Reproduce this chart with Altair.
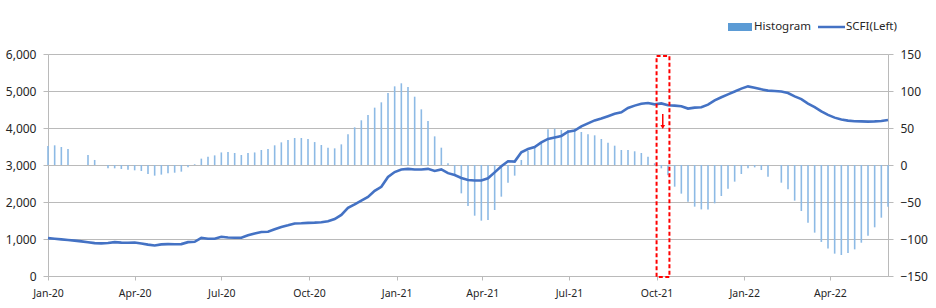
import altair as alt
import pandas as pd

start_date = "2020-01-03"
n_weeks = 127

scfi = [1023, 1005, 990, 975, 955, 936, 910, 888, 882, 890, 915, 902, 900, 905, 880, 848,
        825, 855, 862, 860, 862, 915, 925, 1030, 1008, 1005, 1062, 1040, 1035, 1032, 1100, 1148,
        1190, 1195, 1262, 1325, 1370, 1420, 1425, 1436, 1442, 1452, 1478, 1540, 1650, 1840, 1935, 2040,
        2135, 2300, 2410, 2675, 2810, 2880, 2895, 2880, 2880, 2895, 2838, 2882, 2780, 2730, 2650, 2595,
        2580, 2580, 2640, 2800, 2965, 3100, 3092, 3345, 3430, 3485, 3610, 3705, 3745, 3785, 3900, 3930,
        4045, 4125, 4205, 4255, 4320, 4385, 4425, 4540, 4605, 4655, 4675, 4640, 4665, 4615, 4605, 4590,
        4525, 4550, 4560, 4630, 4745, 4830, 4910, 4985, 5065, 5125, 5090, 5045, 5010, 5000, 4985, 4945,
        4855, 4780, 4660, 4565, 4450, 4355, 4280, 4230, 4200, 4182, 4180, 4172, 4178, 4188, 4215]

hist = [25.7, 26.6, 24.3, 21.6, None, None, 13.5, 6.8, None, -4.5, -4.5, -5.4, -6.3, -7.2, -8.1, -12.2,
        -14.4, -13, -11.3, -10.4, -9, -3.2, 1, 8.6, 11.3, 13, 17, 17.6, 16.2, 13.5, 16.2, 17,
        20.3, 21.6, 26.6, 30.6, 33.8, 36.5, 36.5, 35.1, 31, 27, 23.4, 22.5, 27.9, 41.4, 50.9, 60.4,
        67.6, 77.5, 84.7, 97.3, 106.3, 110.4, 105.4, 92.3, 75.2, 59.5, 38.7, 23.4, 2.3, -12.2, -38.3, -55.4,
        -68.5, -75.2, -74.3, -60.8, -42.8, -23.9, -14.4, 6.8, 18.9, 24.8, 31, 48.2, 49.1, 47.3, 47.3, 49.1,
        44.6, 41.4, 40.1, 35.1, 30.2, 26.1, 20.3, 20.3, 18.5, 16.2, 11.3, 2.3, -4.5, -14, -29.3, -38.7,
        -49.5, -56.3, -60, -60, -51.8, -41.9, -32, -22.5, -12.2, -4.5, -3.2, -6.8, -15.8, None, -23.9, -32.9,
        -48.2, -62.2, -77.9, -91.4, -104, -113, -119.8, -121.6, -118.9, -114, -105, -95.5, -84.2, -71.2, -56.3]

tick_dates = [(2020, 1), (2020, 4), (2020, 7), (2020, 10), (2021, 1), (2021, 4),
              (2021, 7), (2021, 10), (2022, 1), (2022, 4)]

dates = pd.date_range(start_date, periods=n_weeks, freq="7D")
df = pd.DataFrame({
    "date": [d.strftime("%Y-%m-%dT00:00:00") for d in dates],
    "scfi": scfi,
    "hist": hist,
})
dfh = df.dropna(subset=["hist"])

FONT = "Noto Sans"
GRID = "#BABABA"
LBL = "#262626"

xdomain = [alt.DateTime(year=2020, month=1, date=3), alt.DateTime(year=2022, month=6, date=3)]
xscale = alt.Scale(domain=xdomain, padding=0, nice=False)
xaxis = alt.Axis(values=[alt.DateTime(year=y, month=m, date=3) for y, m in tick_dates],
                 format="%b-%y", title=None, grid=False, labelFontSize=10.5, labelColor=LBL,
                 labelFont=FONT, domainColor=GRID, tickColor=GRID, tickSize=4, labelPadding=8,
                 labelFlush=False)


def X(field):
    return alt.X(field, scale=xscale, axis=xaxis)


bars = alt.Chart(dfh).mark_bar(size=1.6, color="#8DBAE5").encode(
    x=X("date:T"),
    y=alt.Y("hist:Q", scale=alt.Scale(domain=[-150, 150]),
            axis=alt.Axis(orient="right", values=[-150, -100, -50, 0, 50, 100, 150], grid=False,
                          title=None, labelFontSize=12, labelFont=FONT, labelColor=LBL,
                          domainColor=GRID, tickColor=GRID, tickSize=5, labelPadding=7)),
)

line = alt.Chart(df).mark_line(color="#4472C4", strokeWidth=2.6).encode(
    x=X("date:T"),
    y=alt.Y("scfi:Q", scale=alt.Scale(domain=[0, 6000]),
            axis=alt.Axis(orient="left", values=[0, 1000, 2000, 3000, 4000, 5000, 6000],
                          format=",d", grid=True, gridColor=GRID, gridWidth=1, title=None,
                          labelFontSize=12, labelFont=FONT, labelColor=LBL, domainColor=GRID,
                          tickColor=GRID, tickSize=5, labelPadding=7)),
)

one = pd.DataFrame({"a": [0]})
box_df = pd.DataFrame({"s": ["2021-10-03T00:00:00"], "e": ["2021-10-16T12:00:00"]})
box = alt.Chart(box_df).mark_rect(fillOpacity=0, stroke="#FF0000", strokeWidth=2,
                                  strokeDash=[4, 2.5]).encode(
    x=X("s:T"), x2="e:T",
    y=alt.value(2), y2=alt.value(223))

arrow_df = pd.DataFrame({"d": ["2021-10-09T12:00:00"]})
arrow_line = alt.Chart(arrow_df).mark_rule(color="#FF0000", strokeWidth=1.5).encode(
    x=X("d:T"), y=alt.value(60), y2=alt.value(72))
arrow_head = alt.Chart(arrow_df).mark_point(shape="triangle-down", filled=True, color="#FF0000",
                                            size=22, opacity=1).encode(
    x=X("d:T"), y=alt.value(73))

leg_rect = alt.Chart(one).mark_rect(color="#5B9BD5").encode(
    x=alt.value(680), x2=alt.value(704), y=alt.value(-31), y2=alt.value(-23))
leg_t1 = alt.Chart(one).mark_text(text="Histogram", align="left", baseline="middle",
                                  fontSize=11.5, font=FONT, color=LBL).encode(
    x=alt.value(706), y=alt.value(-27))
leg_line = alt.Chart(one).mark_rule(color="#4472C4", strokeWidth=2.5).encode(
    x=alt.value(770), x2=alt.value(797), y=alt.value(-27))
leg_t2 = alt.Chart(one).mark_text(text="SCFI(Left)", align="left", baseline="middle",
                                  fontSize=11.5, font=FONT, color=LBL).encode(
    x=alt.value(798), y=alt.value(-27))

chart = alt.layer(bars, line, box, arrow_line, arrow_head,
                  leg_rect, leg_t1, leg_line, leg_t2).resolve_scale(y="independent").properties(
    width=840, height=222,
    autosize=alt.AutoSizeParams(type="none"),
    padding={"left": 48, "top": 54, "right": 48, "bottom": 32},
).configure_view(stroke=None).configure(background="white")

chart.save("out.html", embed_options={"renderer": "svg", "actions": False})
